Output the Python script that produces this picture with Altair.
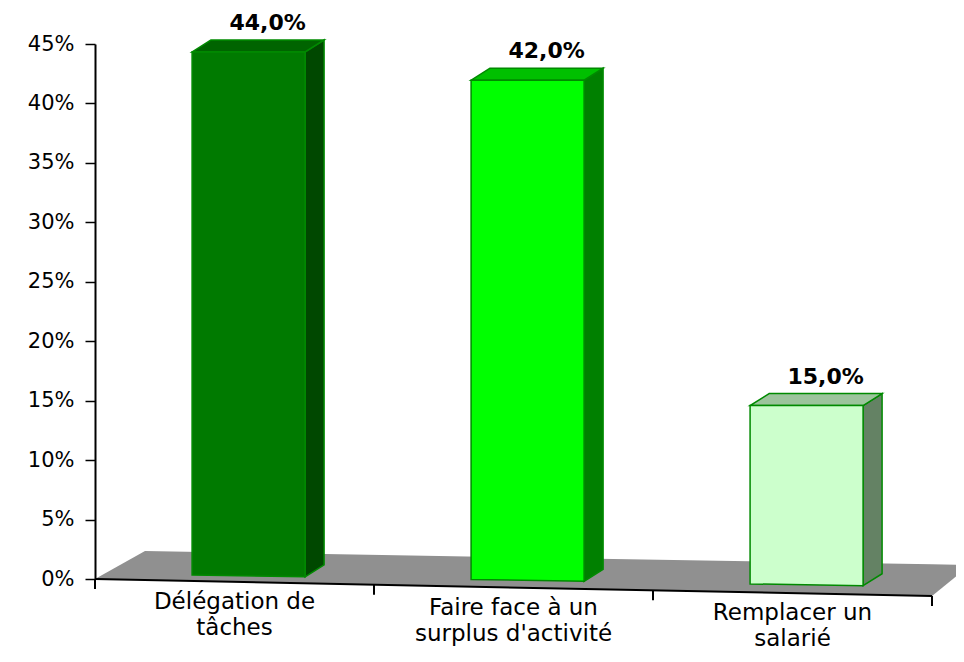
import altair as alt
import pandas as pd

# ---------------- data ----------------
categories = ["Délégation de\ntâches", "Faire face à un\nsurplus d'activité", "Remplacer un\nsalarié"]
values = [44.0, 42.0, 15.0]
value_labels = ["44,0%", "42,0%", "15,0%"]
y_ticks = [0, 5, 10, 15, 20, 25, 30, 35, 40, 45]

# ---------------- styles ----------------
front_colors = ["#007a00", "#00ff00", "#ccffcc"]
top_colors = ["#006400", "#00c000", "#9cc49c"]
side_colors = ["#004800", "#008000", "#648264"]
EDGE = "#008a00"
FLOOR = "#909090"

PAD_L, PAD_T, PAD_R, PAD_B = 87, 36, 24, 75
W, H = 837, 535
Y_MAX = 45
N = len(categories)
PX_X = W / N
PX_Y = H / Y_MAX


def ux(px):
    return px / PX_X


def uy(px):
    return px / PX_Y


BAR_L, BAR_W = 0.348, ux(113)       # front face position inside a category
DX, DY = ux(19), uy(12)             # bar depth
AXIS_DROP = 17                      # px drop of the front floor edge across the plot


def axis_y(x):
    return -uy(AXIS_DROP * x / N)


def base_y(x):                      # floor line under bar fronts
    return uy(4) - uy(4.46 * (x - BAR_L))


# floor quadrilateral (front-left, back-left, front-right, back-right)
fl = (0.0, 0.0)
bl = (ux(50), uy(28))
fr = (float(N), axis_y(N))
br = (N + ux(38), uy(14))


def lerp(p, q, x):
    return p[1] + (q[1] - p[1]) * (x - p[0]) / (q[0] - p[0])


floor_df = pd.DataFrame({
    "x": [fl[0], bl[0], fr[0], br[0]],
    "y": [fl[1], lerp(fl, fr, bl[0]), fr[1], br[1]],
    "y2": [fl[1], bl[1], lerp(bl, br, fr[0]), br[1]],
})

front_rows, side_rows, top_rows, lab_rows = [], [], [], []
for i, (v, lab) in enumerate(zip(values, value_labels)):
    xl = i + BAR_L
    xr = xl + BAR_W
    T = base_y(xl) + v
    front_rows += [
        {"bar": i, "x": xl, "y": base_y(xl), "y2": T, "fill": front_colors[i]},
        {"bar": i, "x": xr, "y": base_y(xr), "y2": T, "fill": front_colors[i]},
    ]
    side_rows += [
        {"bar": i, "x": xr, "y": base_y(xr), "y2": T, "fill": side_colors[i]},
        {"bar": i, "x": xr + DX, "y": base_y(xr) + DY, "y2": T + DY, "fill": side_colors[i]},
    ]
    top_rows += [
        {"bar": i, "y": T, "x": xl, "x2": xr, "fill": top_colors[i]},
        {"bar": i, "y": T + DY, "x": xl + DX, "x2": xr + DX, "fill": top_colors[i]},
    ]
    lab_rows.append({"x": (xl + xr) / 2 + DX, "y": T + DY, "label": lab})

front_df = pd.DataFrame(front_rows)
side_df = pd.DataFrame(side_rows)
top_df = pd.DataFrame(top_rows)
lab_df = pd.DataFrame(lab_rows)

cat_df = pd.DataFrame({
    "x": [i + 0.5 for i in range(N)],
    "y": [axis_y(i + 0.5) for i in range(N)],
    "label": categories,
})
tick_df = pd.DataFrame({
    "x": list(range(N + 1)),
    "y": [axis_y(i) for i in range(N + 1)],
    "y2": [axis_y(i) - uy(10) for i in range(N + 1)],
})
edge_df = pd.DataFrame({"x": [0.0], "x2": [float(N)], "y": [0.0], "y2": [axis_y(N)]})

xs = alt.Scale(domain=[0, N], nice=False, zero=False)
ysc = alt.Scale(domain=[0, Y_MAX], nice=False, zero=False)

y_axis = alt.Axis(
    values=y_ticks, labelExpr="datum.value + '%'", grid=False, title=None,
    domainColor="black", domainWidth=2, tickColor="black", tickSize=10, tickWidth=1.5,
    labelFont="DejaVu Sans", labelFontSize=21, labelColor="black", labelPadding=11,
)


def X(field="x:Q", **kw):
    return alt.X(field, scale=xs, axis=None, **kw)


def Y(field="y:Q", **kw):
    return alt.Y(field, scale=ysc, axis=y_axis, **kw)


floor = alt.Chart(floor_df).mark_area(color=FLOOR, interpolate="linear").encode(
    x=X(), y=Y(stack=None), y2="y2:Q",
)

edge = alt.Chart(edge_df).mark_rule(color="black", strokeWidth=2).encode(
    x=X(), x2="x2:Q", y=Y(), y2="y2:Q",
)

ticks = alt.Chart(tick_df).mark_rule(color="black", strokeWidth=2).encode(
    x=X(), y=Y(), y2="y2:Q",
)

front = alt.Chart(front_df).mark_area(stroke=EDGE, strokeWidth=1.5, fillOpacity=1).encode(
    x=X(), y=Y(stack=None), y2="y2:Q",
    fill=alt.Fill("fill:N", scale=None), detail="bar:N",
)

side = alt.Chart(side_df).mark_area(stroke=EDGE, strokeWidth=1.5, fillOpacity=1).encode(
    x=X(), y=Y(stack=None), y2="y2:Q",
    fill=alt.Fill("fill:N", scale=None), detail="bar:N",
)

top = alt.Chart(top_df).mark_area(orient="horizontal", stroke=EDGE, strokeWidth=1.5, fillOpacity=1).encode(
    y=Y(), x=X(stack=None), x2="x2:Q",
    fill=alt.Fill("fill:N", scale=None), detail="bar:N",
)

bar_labels = alt.Chart(lab_df).mark_text(
    font="DejaVu Sans", fontSize=22, fontWeight="bold", color="black",
    align="center", baseline="middle", dy=-17,
).encode(
    x=X(), y=Y(), text="label:N",
)

cat_labels = alt.Chart(cat_df).mark_text(
    font="DejaVu Sans", fontSize=23, color="black", align="center",
    baseline="alphabetic", lineBreak="\n", lineHeight=26, dy=27,
).encode(
    x=X(), y=Y(), text="label:N",
)

chart = alt.layer(floor, edge, ticks, side, top, front, bar_labels, cat_labels).properties(
    width=W, height=H,
    autosize=alt.AutoSizeParams(type="none"),
    padding={"left": PAD_L, "top": PAD_T, "right": PAD_R, "bottom": PAD_B},
    background="white",
).configure_view(stroke=None)

chart.save("out.html", embed_options={"renderer": "svg", "actions": False})
